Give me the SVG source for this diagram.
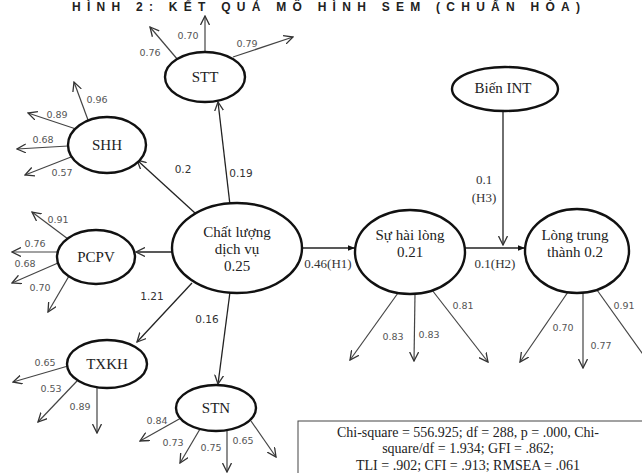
<svg xmlns="http://www.w3.org/2000/svg" width="642" height="473" viewBox="0 0 642 473">
<defs>
<marker id="open" viewBox="0 0 10 10" refX="9" refY="5" markerWidth="10" markerHeight="10" markerUnits="userSpaceOnUse" orient="auto">
<path d="M0,0.5 L9,5 L0,9.5" fill="none" stroke="#333" stroke-width="1.3"/>
</marker>
<marker id="solid" viewBox="0 0 10 10" refX="10" refY="5" markerWidth="9" markerHeight="7" markerUnits="userSpaceOnUse" orient="auto">
<path d="M0,1 L10,5 L0,9 Z" fill="#111"/>
</marker>
<style>
.node ellipse{fill:#fff;stroke:#111;stroke-width:2.4}
.nt{font-family:"Liberation Serif","Times New Roman",serif;font-size:15px;fill:#222;text-anchor:middle}
.ind line{stroke:#444;stroke-width:1.2;marker-end:url(#open)}
.str line{stroke:#222;stroke-width:1.3}
.op{marker-end:url(#open)}
.so{marker-end:url(#solid)}
.il{font-family:"DejaVu Sans",sans-serif;font-size:9.5px;fill:#555;text-anchor:middle}
.pl{font-family:"DejaVu Sans",sans-serif;font-size:10.5px;fill:#333;text-anchor:middle}
.sl{font-family:"Liberation Serif","Times New Roman",serif;font-size:13px;fill:#333;text-anchor:middle}
.box{fill:#fff;stroke:#444;stroke-width:1}
.bt{font-family:"Liberation Serif","Times New Roman",serif;font-size:14px;fill:#222;text-anchor:middle}
</style>
</defs>
<rect width="642" height="473" fill="#fff"/>
<text x="326" y="11" font-family="Liberation Sans, Arial, sans-serif" font-size="12" font-weight="bold" fill="#222" text-anchor="middle" textLength="508" lengthAdjust="spacing">HÌNH 2: KẾT QUẢ MÔ HÌNH SEM (CHUẨN HÓA)</text>

<g id="connectors">
<g class="str">
<line class="op" x1="230" y1="205" x2="218" y2="102"/>
<line class="op" x1="195" y1="213" x2="137" y2="160"/>
<line class="op" x1="172" y1="252" x2="136" y2="252"/>
<line class="op" x1="192" y1="283" x2="137" y2="342"/>
<line class="op" x1="230" y1="292" x2="218" y2="384"/>
<line class="so" x1="302" y1="248" x2="355" y2="248"/>
<line class="so" x1="465" y1="248" x2="525" y2="248"/>
<line class="op" x1="503" y1="111" x2="503" y2="245"/>
</g>
<g class="ind">
<line x1="178" y1="60" x2="150" y2="27"/>
<line x1="205" y1="52" x2="205" y2="16"/>
<line x1="233" y1="57" x2="293" y2="37"/>
<line x1="88" y1="120" x2="74" y2="82"/>
<line x1="76" y1="129" x2="28" y2="113"/>
<line x1="68" y1="146" x2="17" y2="149"/>
<line x1="71" y1="157" x2="25" y2="175"/>
<line x1="68" y1="239" x2="32" y2="212"/>
<line x1="57" y1="252" x2="12" y2="252"/>
<line x1="58" y1="263" x2="12" y2="283"/>
<line x1="69" y1="276" x2="48" y2="312"/>
<line x1="68" y1="366" x2="13" y2="382"/>
<line x1="77" y1="381" x2="38" y2="422"/>
<line x1="97" y1="388" x2="97" y2="433"/>
<line x1="181" y1="418" x2="140" y2="441"/>
<line x1="200" y1="429" x2="180" y2="463"/>
<line x1="227" y1="431" x2="227" y2="472"/>
<line x1="251" y1="421" x2="276" y2="457"/>
<line x1="398" y1="293" x2="350" y2="360"/>
<line x1="415" y1="294" x2="414" y2="361"/>
<line x1="432" y1="290" x2="488" y2="362"/>
<line x1="568" y1="292" x2="520" y2="362"/>
<line x1="583" y1="293" x2="583" y2="368"/>
<line x1="597" y1="290" x2="662" y2="381"/>
</g>
<text class="pl" x="241" y="177">0.19</text>
<text class="pl" x="183" y="173">0.2</text>
<text class="pl" x="152" y="300">1.21</text>
<text class="pl" x="207" y="323">0.16</text>
<text class="sl" x="328" y="268">0.46(H1)</text>
<text class="sl" x="495" y="268">0.1(H2)</text>
<text class="sl" x="484" y="184">0.1</text>
<text class="sl" x="484" y="202">(H3)</text>
<text class="il" x="150" y="56">0.76</text>
<text class="il" x="188" y="39">0.70</text>
<text class="il" x="247" y="47">0.79</text>
<text class="il" x="97" y="103">0.96</text>
<text class="il" x="57" y="118">0.89</text>
<text class="il" x="43" y="143">0.68</text>
<text class="il" x="62" y="176">0.57</text>
<text class="il" x="58" y="223">0.91</text>
<text class="il" x="35" y="247">0.76</text>
<text class="il" x="25" y="267">0.68</text>
<text class="il" x="40" y="291">0.70</text>
<text class="il" x="45" y="366">0.65</text>
<text class="il" x="51" y="392">0.53</text>
<text class="il" x="80" y="410">0.89</text>
<text class="il" x="157" y="424">0.84</text>
<text class="il" x="173" y="446">0.73</text>
<text class="il" x="211" y="451">0.75</text>
<text class="il" x="243" y="444">0.65</text>
<text class="il" x="393" y="340">0.83</text>
<text class="il" x="429" y="338">0.83</text>
<text class="il" x="463" y="309">0.81</text>
<text class="il" x="563" y="331">0.70</text>
<text class="il" x="601" y="349">0.77</text>
<text class="il" x="624" y="309">0.91</text>
</g>

<g id="STT" class="node"><ellipse cx="205" cy="77" rx="40" ry="25"/><text class="nt" x="205" y="82">STT</text></g>
<g id="SHH" class="node"><ellipse cx="107" cy="145" rx="39" ry="28"/><text class="nt" x="107" y="150">SHH</text></g>
<g id="PCPV" class="node"><ellipse cx="96" cy="257" rx="39" ry="27"/><text class="nt" x="96" y="262">PCPV</text></g>
<g id="TXKH" class="node"><ellipse cx="107" cy="364" rx="40" ry="24"/><text class="nt" x="107" y="369">TXKH</text></g>
<g id="STN" class="node"><ellipse cx="216" cy="408" rx="40" ry="23"/><text class="nt" x="216" y="413">STN</text></g>
<g id="CLDV" class="node"><ellipse cx="237" cy="248" rx="65" ry="45"/>
<text class="nt" x="237" y="237">Chất lượng</text><text class="nt" x="237" y="254">dịch vụ</text><text class="nt" x="237" y="271">0.25</text></g>
<g id="SHL" class="node"><ellipse cx="410" cy="252" rx="55" ry="42"/>
<text class="nt" x="410" y="240">Sự hài lòng</text><text class="nt" x="410" y="257">0.21</text></g>
<g id="LTT" class="node"><ellipse cx="577" cy="251" rx="52" ry="42"/>
<text class="nt" x="575" y="240">Lòng trung</text><text class="nt" x="575" y="257">thành 0.2</text></g>
<g id="INT" class="node"><ellipse cx="505" cy="89" rx="53" ry="22"/><text class="nt" x="503" y="93">Biến INT</text></g>

<g id="fit">
<rect class="box" x="298" y="421" width="360" height="70"/>
<text class="bt" x="468" y="437">Chi-square = 556.925; df = 288, p = .000, Chi-</text>
<text class="bt" x="468" y="453">square/df = 1.934; GFI = .862;</text>
<text class="bt" x="468" y="470">TLI = .902; CFI = .913; RMSEA = .061</text>
</g>
</svg>
